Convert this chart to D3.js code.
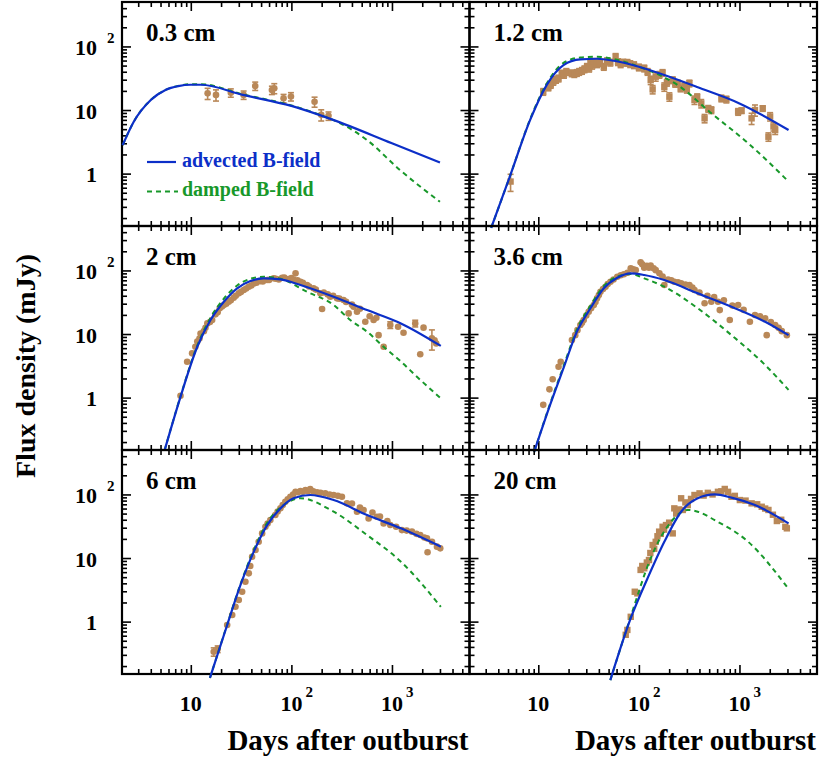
<!DOCTYPE html>
<html><head><meta charset="utf-8">
<script src="https://cdn.jsdelivr.net/npm/d3@7/dist/d3.min.js"></script>
<style>
body{margin:0;background:#fff;}
svg text{font-family:"Liberation Serif","Times New Roman",serif;font-weight:bold;}
</style></head>
<body>
<svg id="chart" width="820" height="763"></svg>
<script>
// ---------------- DATA ----------------
const panelLabels = ["0.3 cm", "1.2 cm", "2 cm", "3.6 cm", "6 cm", "20 cm"];
const xTickValues = [10, 100, 1000];
const xTickLabels = [["10", ""], ["10", "2"], ["10", "3"]];
const yTickValues = [1, 10, 100];
const yTickLabels = [["1", ""], ["10", ""], ["10", "2"]];
const legendLabels = ["advected B-field", "damped B-field"];
const xTitle = "Days after outburst";
const yTitle = "Flux density (mJy)";

// model curves: [days, mJy]
const adv03 = [[2.1,2.8],[2.7,6.5],[4.0,14.4],[5.6,20.7],[7.5,23.8],[10,25],[12.6,25],[33,17.3],[100,11.6],[260,7.0],[1000,3.0],[3000,1.5]];
const dmp03 = [[2.1,2.8],[2.7,6.5],[4.0,14.4],[5.6,20.7],[7.5,24],[10,25.5],[12.6,25.5],[33,17.6],[100,11.8],[200,8.2],[307,6.2],[561,3.4],[1200,1.14],[3000,0.36]];
const adv12 = [[3.4,0.14],[5.2,0.89],[8.3,7.0],[12.1,24.7],[17.8,51],[26.2,62.7],[38.4,64],[56.5,59.5],[100,48],[179,35.5],[385,22.8],[1000,12.7],[3076,4.85]];
const dmp12 = [[3.4,0.14],[5.2,0.89],[8.3,7.2],[12.1,26],[17.8,55],[26.2,67],[38.4,69],[56.5,63],[100,48],[170,34],[243,24.7],[525,8.9],[1222,3.0],[3076,0.75]];
const adv2 = [[5.5,0.15],[7.9,1.03],[11.6,6.3],[15.7,16.6],[21.3,32.2],[28.9,52.4],[39.2,68],[53,75],[77.8,72.4],[123,58.9],[263,38.5],[565,23.8],[1227,14.7],[3060,6.5]];
const dmp2 = [[5.5,0.15],[7.9,1.05],[11.6,6.6],[15.7,18],[21.3,36],[28.9,58],[39.2,74],[53,79.6],[77.8,74],[143,46.2],[263,28.6],[385,16.6],[565,10.9],[826,6.3],[1227,3.7],[1770,2.13],[3060,0.975]];
const adv36 = [[9.1,0.14],[13.1,0.766],[17.8,2.9],[24.2,10.9],[33,25.4],[44.8,52.4],[61,76.8],[83,90],[113,84.7],[179,70.6],[385,43.6],[833,26.9],[1800,15.6],[3076,9.6]];
const dmp36 = [[9.1,0.14],[13.1,0.8],[17.8,3.1],[24.2,11.8],[33,28],[44.8,57],[61,80],[83,88],[113,75.2],[179,55.5],[385,25.4],[833,9.6],[1800,3.26],[3076,1.32]];
const adv6 = [[15.5,0.13],[23,0.885],[31.2,3.77],[42.3,12.6],[57.4,33],[77.8,60.4],[105,87],[154,98],[263,81.6],[565,47.4],[1227,29.3],[3060,15.1]];
const dmp6 = [[15.5,0.13],[23,0.9],[31.2,3.9],[42.3,13.4],[57.4,36],[83.8,68],[123,87],[263,53.5],[565,23],[1227,8.75],[3060,1.71]];
const adv20 = [[52,0.12],[83,1.13],[122,4.8],[179,18],[263,53.5],[385,87],[567,100],[833,89],[1426,68],[3076,35]];
const dmp20 = [[52,0.12],[83,1.2],[131,9.9],[209,37.2],[306,57],[385,53.5],[567,39.5],[1222,18],[2958,3.54]];

// observations: [days, mJy, relative error (0 = none drawn)]
const obs03 = [[14.7,18.3,0.2],[17.8,17.3,0.2],[25,18.7,0.15],[33.5,17.3,0.15],[43.7,23.9,0.15],[64,20.6,0.15],[67.6,22,0.18],[83.6,15.3,0.15],[99,16.3,0.15],[170,13.5,0.18],[198,8.4,0.2],[234,8.1,0.15]];
const obs12 = [[5.3,0.75,0.3],[11.2,19.4,0.12],[12.6,22.8,0.12],[13.3,25,0.12],[14.1,27.9,0.12],[15,30,0.12],[15.9,31.5,0.12],[17.1,37.7,0.12],[18,36,0.12],[19,40,0.12],[21.5,38,0.12],[22.8,37,0.12],[24.2,38.5,0.12],[25.5,40,0.12],[27.2,41.5,0.12],[28.8,44,0.12],[30.5,48,0.12],[32,45,0.12],[33,54,0.12],[34.3,50,0.12],[35.6,57.5,0.12],[38.4,52.8,0.12],[41,55,0.12],[44.8,48,0.12],[48.3,58.9,0.12],[52,56,0.12],[58.7,68.9,0.12],[62,57,0.12],[65.9,52.8,0.12],[70,56,0.12],[76.8,55.5,0.12],[82,53,0.12],[89.5,51,0.12],[100,47,0.12],[113,45.3,0.12],[122,40,0.12],[131,29.6,0.15],[137,21.1,0.15],[147,33.4,0.15],[160,36,0.12],[172,38.5,0.12],[179,23.2,0.15],[190,27,0.12],[201,16.2,0.15],[217,29.6,0.12],[230,26,0.12],[243,26.3,0.12],[260,22,0.12],[284,23.8,0.12],[300,21,0.12],[318,26.3,0.12],[357,14.4,0.15],[380,16,0.12],[417,12.7,0.15],[450,7.4,0.15],[490,10.5,0.12],[525,10,0.12],[661,15.3,0.12],[741,14.7,0.12],[970,9.4,0.12],[1050,9.8,0.1],[1320,7.4,0.2],[1426,10,0.2],[1703,10.6,0.1],[2017,7.9,0.15],[1941,3.8,0.15],[2178,5.5,0.15],[2266,4.85,0.15]];
const obs2 = [[7.9,1.07,0],[9.2,3.67,0],[10.3,4.97,0],[11.1,6.3,0],[11.6,7.6,0],[12.2,8.5,0],[12.5,10.2,0],[13.5,11.1,0],[14,12.5,0],[14.6,14.7,0],[15.5,15.5,0],[16.3,16.6,0],[17.6,20.4,0],[18.5,22,0],[19.4,25.4,0],[20.4,27,0],[21.3,28.6,0],[22.5,30,0],[23.8,32.2,0],[25,34,0],[26.7,37.2,0],[28,40,0],[30,43.6,0],[31.5,46,0],[33.6,49.2,0],[35.5,52,0],[37.7,55.5,0],[40,58,0],[42.3,62.6,0],[45,64,0],[49.2,68,0],[52,67,0],[57.4,70.6,0],[60,71,0],[66.7,75.2,0],[70,74,0],[75,72,0],[80.9,76.8,0],[85,77,0],[94,73.2,0],[100,76,0],[105,72,0],[110,90,0],[115,70,0],[123,66.4,0],[130,64,0],[143,58.9,0],[150,56,0],[166,52.4,0],[175,50,0],[194,43.6,0],[202,24.7,0],[210,45,0],[230,42,0],[244,38.5,0],[260,40,0],[284,36.4,0],[300,36,0],[330,34.3,0],[350,32,0],[371,21.1,0],[400,29,0],[416,26.9,0],[449,22.4,0],[480,25,0],[543,15.6,0],[600,19,0],[657,16.6,0],[700,18,0],[736,9.6,0],[826,6.3,0],[962,13.9,0.12],[1150,13,0],[1303,10.5,0],[1703,14.7,0.12],[1910,4.8,0],[2061,12.6,0],[2495,8.6,0.35],[2754,7.1,0],[2650,8,0]];
const obs36 = [[11.2,0.77,0],[12.9,1.35,0],[13.9,1.94,0],[15.9,3.06,0],[16.7,3.67,0],[21.6,8.05,0],[23.3,9.6,0],[24.5,11.5,0],[26.2,13.9,0],[27.2,15,0],[28.3,16.6,0],[30,19.5,0],[31.7,22.4,0],[33.5,25.5,0],[35.6,28.6,0],[37,32,0],[38.4,36.4,0],[40,41,0],[41.5,46.2,0],[44,51,0],[46.6,55.5,0],[49,61,0],[52.2,66.4,0],[56,72,0],[61,79.6,0],[66,84,0],[71,87,0],[77,92,0],[83,108,0],[88,104,0],[93,101,0],[104,134,0],[108,125,0],[113,110,0],[120,118,0],[126,110,0],[131,119,0],[140,108,0],[147,101,0],[160,90,0],[172,80,0],[179,58.9,0],[195,72,0],[210,70,0],[225,66.4,0],[245,65,0],[263,62.6,0],[290,60,0],[318,58.9,0],[340,54,0],[357,49.2,0],[400,45,0],[450,30.4,0],[480,40,0],[525,32.2,0],[560,38,0],[612,32.2,0],[637,23.8,0],[700,34,0],[801,16.6,0],[850,28,0],[970,28.6,0],[1100,24,0],[1270,15.6,0],[1426,19.9,0],[1600,19,0],[1800,17.7,0],[1866,9.6,0],[2050,15.5,0],[2266,13.9,0],[2450,12.5,0],[2636,11.1,0],[2958,9.6,0]];
const obs6 = [[16.9,0.336,0.15],[18.5,0.37,0.12],[23,0.885,0],[25.8,1.27,0],[27.8,1.71,0],[30,2.19,0],[32.4,2.95,0],[34.9,4.24,0],[37.7,5.74,0],[39,7.5,0],[40.7,10.5,0],[44,13.4,0],[47.3,18,0],[51.2,24.4,0],[55.2,31,0],[58,35,0],[61.8,39.5,0],[69.3,47.4,0],[73,54,0],[77.8,60.4,0],[82,68,0],[87,76.8,0],[92,84,0],[97.7,92,0],[104,100,0],[110,110,0],[116,108,0],[123,113,0],[130,110,0],[138,117,0],[146,112,0],[154,122,0],[165,112,0],[180,108,0],[195,106,0],[217,104,0],[240,100,0],[263,98,0],[290,95,0],[318,92,0],[357,72.4,0],[400,72,0],[449,53.5,0],[480,62,0],[522,56.9,0],[586,42,0],[640,52,0],[709,44.6,0],[760,45,0],[826,35,0],[900,38,0],[962,33,0],[1100,31,0],[1256,27.5,0],[1400,27,0],[1580,26,0],[1750,24,0],[1910,23,0],[2100,21,0],[2228,20.4,0],[2259,12.3,0],[2500,18,0],[2800,15.1,0],[3020,14.2,0]];
const obs20 = [[74,0.62,0],[76.8,0.74,0],[83,1.19,0],[91,2.95,0],[96.6,2.78,0],[104,6.5,0],[108,7.5,0],[113,6.9,0],[120,8.5,0],[126,9.3,0],[130,12,0],[137,16,0],[142,14,0],[147,18,0],[153,22,0],[159,26,0],[165,24,0],[172,31,0],[178,28,0],[186,33,0],[200,36,0],[217,24.4,0],[225,60.4,0],[235,50,0],[250,58,0],[263,87,0],[273,57,0],[290,75,0],[306,68,0],[330,85,0],[357,98,0],[401,104,0],[440,96,0],[485,106,0],[540,100,0],[611,110,0],[660,112,0],[714,122,0],[771,110,0],[833,92,0],[900,95,0],[1009,81.6,0],[1150,80,0],[1320,72.4,0],[1500,70,0],[1664,64,0],[1800,60,0],[1941,57,0],[2150,48,0],[2354,38.2,0],[2600,40,0],[2858,31,0],[2958,29.3,0]];

const panels = [
  {label: panelLabels[0], adv: adv03, dmp: dmp03, obs: obs03, marker: "circle"},
  {label: panelLabels[1], adv: adv12, dmp: dmp12, obs: obs12, marker: "square"},
  {label: panelLabels[2], adv: adv2,  dmp: dmp2,  obs: obs2,  marker: "circle"},
  {label: panelLabels[3], adv: adv36, dmp: dmp36, obs: obs36, marker: "circle"},
  {label: panelLabels[4], adv: adv6,  dmp: dmp6,  obs: obs6,  marker: "circle"},
  {label: panelLabels[5], adv: adv20, dmp: dmp20, obs: obs20, marker: "square"}
];

// ---------------- LAYOUT ----------------
const X0 = 122, Y0 = 2, W = 347.5, H = 224;
const BLUE = "#0c2fc8", GREEN = "#18982a", BROWN = "#b98858";
const svg = d3.select("#chart");
const x = d3.scaleLog().domain([2.07, 5900]).range([0, W]);
const y = d3.scaleLog().domain([0.15, 500]).range([H, 0]);

function minors(domain) {
  const out = [];
  for (let k = -2; k <= 4; k++) for (let m = 2; m <= 9; m++) {
    const v = m * Math.pow(10, k);
    if (v > domain[0] && v < domain[1]) out.push(v);
  }
  return out;
}
const xMinor = minors(x.domain()), yMinor = minors(y.domain());
const xMajor = [10, 100, 1000], yMajor = [1, 10, 100];

const line = d3.line().x(d => x(d[0])).y(d => y(d[1])).curve(d3.curveMonotoneX);

panels.forEach((p, i) => {
  const col = i % 2, row = Math.floor(i / 2);
  const g = svg.append("g").attr("transform", `translate(${X0 + col * W},${Y0 + row * H})`);

  // ticks (inward on all four sides)
  const tickGroups = [
    [d3.axisLeft(y), [0, 0], yMajor, yMinor],
    [d3.axisRight(y), [W, 0], yMajor, yMinor],
    [d3.axisTop(x), [0, 0], xMajor, xMinor],
    [d3.axisBottom(x), [0, H], xMajor, xMinor]
  ];
  tickGroups.forEach(([ax, t, maj, mn]) => {
    [[maj, 9], [mn, 5]].forEach(([vals, len]) => {
      const a = g.append("g").attr("transform", `translate(${t[0]},${t[1]})`)
        .call(ax.tickValues(vals).tickSize(-len).tickSizeOuter(0).tickFormat(""));
      a.select(".domain").remove();
      a.selectAll("line").attr("stroke", "#000").attr("stroke-width", 1.6);
    });
  });

  // frame
  g.append("rect").attr("x", 0).attr("y", 0).attr("width", W).attr("height", H)
    .attr("fill", "none").attr("stroke", "#000").attr("stroke-width", 2.2);

  // error bars
  const eb = p.obs.filter(d => d[2] > 0);
  g.append("g").selectAll("g").data(eb).join("g").each(function(d) {
    const gg = d3.select(this), cx = x(d[0]);
    const lo = y(d[1] * (1 - d[2])), hi = y(d[1] * (1 + d[2]));
    gg.append("line").attr("x1", cx).attr("x2", cx).attr("y1", lo).attr("y2", hi);
    gg.append("line").attr("x1", cx - 3).attr("x2", cx + 3).attr("y1", lo).attr("y2", lo);
    gg.append("line").attr("x1", cx - 3).attr("x2", cx + 3).attr("y1", hi).attr("y2", hi);
  }).selectAll("line").attr("stroke", BROWN).attr("stroke-width", 1.6);

  // points
  if (p.marker === "circle") {
    g.append("g").selectAll("circle").data(p.obs).join("circle")
      .attr("cx", d => x(d[0])).attr("cy", d => y(d[1])).attr("r", 3.3).attr("fill", BROWN);
  } else {
    g.append("g").selectAll("rect").data(p.obs).join("rect")
      .attr("x", d => x(d[0]) - 3.2).attr("y", d => y(d[1]) - 3.2)
      .attr("width", 6.4).attr("height", 6.4).attr("fill", BROWN);
  }

  // model curves
  g.append("path").datum(p.dmp).attr("d", line).attr("fill", "none")
    .attr("stroke", GREEN).attr("stroke-width", 2).attr("stroke-dasharray", "5,4");
  g.append("path").datum(p.adv).attr("d", line).attr("fill", "none")
    .attr("stroke", BLUE).attr("stroke-width", 2.2);

  // panel label
  g.append("text").attr("x", 24).attr("y", 39).attr("font-size", 25).attr("fill", "#000").text(p.label);

  // y tick labels (left column)
  if (col === 0) {
    yTickValues.forEach((v, k) => {
      const [base, sup] = yTickLabels[k];
      g.append("text").attr("x", -25).attr("y", y(v) + 8.5).attr("text-anchor", "end")
        .attr("font-size", 22).text(base);
      if (sup) g.append("text").attr("x", -15).attr("y", y(v) - 3).attr("font-size", 15).text(sup);
    });
  }
  // x tick labels (bottom row)
  if (row === 2) {
    xTickValues.forEach((v, k) => {
      const [base, sup] = xTickLabels[k];
      g.append("text").attr("x", x(v)).attr("y", H + 37).attr("text-anchor", "middle")
        .attr("font-size", 22).text(base);
      if (sup) g.append("text").attr("x", x(v) + 14).attr("y", H + 23).attr("font-size", 15).text(sup);
    });
    g.append("text").attr("x", W - 1).attr("y", H + 76).attr("text-anchor", "end")
      .attr("font-size", 29).text(xTitle);
  }

  // legend (first panel)
  if (i === 0) {
    const lg = g.append("g");
    lg.append("line").attr("x1", 25).attr("x2", 54).attr("y1", 160).attr("y2", 160)
      .attr("stroke", BLUE).attr("stroke-width", 2.2);
    lg.append("text").attr("x", 60).attr("y", 165).attr("font-size", 20).attr("fill", BLUE).text(legendLabels[0]);
    lg.append("line").attr("x1", 25).attr("x2", 56).attr("y1", 189.5).attr("y2", 189.5)
      .attr("stroke", GREEN).attr("stroke-width", 2).attr("stroke-dasharray", "5,4");
    lg.append("text").attr("x", 60).attr("y", 194).attr("font-size", 20).attr("fill", GREEN).text(legendLabels[1]);
  }
});

// y title
svg.append("text").attr("transform", "translate(35,366) rotate(-90)").attr("text-anchor", "middle")
  .attr("font-size", 28).text(yTitle);
</script>
</body></html>
